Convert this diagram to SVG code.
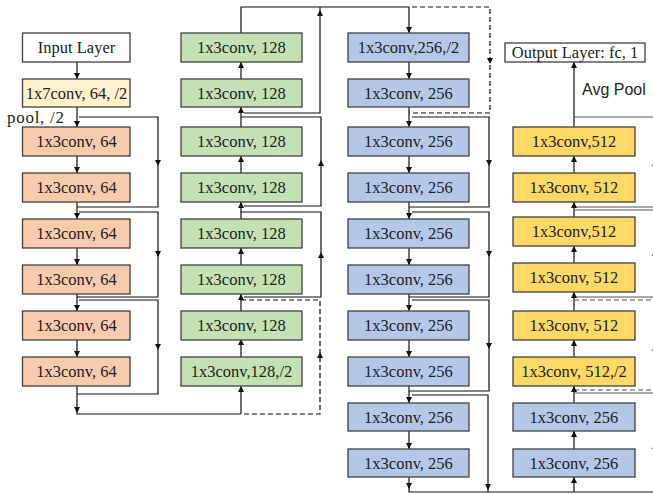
<svg xmlns="http://www.w3.org/2000/svg" xmlns:xlink="http://www.w3.org/1999/xlink" width="653" height="494" viewBox="0 0 653 494">
<style>
.box{stroke:#404040;stroke-width:1.3}
.w{fill:#ffffff}.y{fill:#FFF2CC}.o{fill:#F8CBAD}.g{fill:#C5E0B4}.b{fill:#B4C7E7}.gold{fill:#FFD966}
.t{font-family:"Liberation Serif","Times New Roman",serif;font-size:16.5px;fill:#222;text-anchor:middle}
.s{font-family:"Liberation Sans",Arial,sans-serif;font-size:16px;fill:#222}
.ln{fill:none;stroke:#111;stroke-width:1.2}
.gr{fill:none;stroke:#555;stroke-width:1.2}
.ds{stroke-dasharray:5,3}
.ah{fill:#111}
</style>
<defs>
<path id="ad" d="M-3,-6 L3,-6 L0,0 Z"/>
<path id="au" d="M-3,6 L3,6 L0,0 Z"/>
</defs>
<g id="connectors">
<!-- column 1 -->
<path class="ln" d="M77,62 V79 M77,107 V127 M77,156 V173 M77,202 V219 M77,248 V265 M77,294 V311 M77,340 V357 M77,386 V414 H241"/>
<path class="ln" d="M79,117 H158 V207 H77 M79,212 H158 V297 H77 M79,300 H158 V394 H77"/>
<g class="ah">
<use xlink:href="#ad" x="77" y="79"/><use xlink:href="#ad" x="77" y="127"/><use xlink:href="#ad" x="77" y="173"/><use xlink:href="#ad" x="77" y="219"/><use xlink:href="#ad" x="77" y="265"/><use xlink:href="#ad" x="77" y="311"/><use xlink:href="#ad" x="77" y="357"/><use xlink:href="#ad" x="77" y="413"/>
<use xlink:href="#ad" x="158" y="166"/><use xlink:href="#ad" x="158" y="257"/><use xlink:href="#ad" x="158" y="350"/>
</g>
<!-- column 2 -->
<path class="ln" d="M241,414 V386 M241,357 V339 M241,311 V294 M241,265 V248 M241,219 V202 M241,173 V156 M241,127 V107 M241,79 V62 M241,33 V7 H409 V33"/>
<path class="ln ds" d="M244,414 H320 V300 H241"/>
<path class="ln" d="M244,297 H321 V212 H241 M244,206 H321 V117 H241 M244,113 H320 V7"/>
<g class="ah">
<use xlink:href="#au" x="241" y="386"/><use xlink:href="#au" x="241" y="339"/><use xlink:href="#au" x="241" y="294"/><use xlink:href="#au" x="241" y="248"/><use xlink:href="#au" x="241" y="202"/><use xlink:href="#au" x="241" y="156"/><use xlink:href="#au" x="241" y="107"/><use xlink:href="#au" x="241" y="62"/>
<use xlink:href="#au" x="320" y="352"/><use xlink:href="#au" x="321" y="252"/><use xlink:href="#au" x="321" y="160"/><use xlink:href="#au" x="320" y="10"/>
</g>
<!-- column 3 -->
<path class="ln" d="M409,62 V79 M409,107 V127 M409,156 V173 M409,202 V219 M409,248 V265 M409,294 V311 M409,340 V357 M409,386 V403 M409,431 V449 M409,477 V492 H660"/>
<path class="ln ds" d="M412,7 H490 V113 H409"/>
<path class="ln" d="M412,117 H489 V207 H409 M412,212 H489 V297 H409 M412,300 H489 V391 H409 M412,395 H488 V492"/>
<g class="ah">
<use xlink:href="#ad" x="409" y="33"/><use xlink:href="#ad" x="409" y="79"/><use xlink:href="#ad" x="409" y="127"/><use xlink:href="#ad" x="409" y="173"/><use xlink:href="#ad" x="409" y="219"/><use xlink:href="#ad" x="409" y="265"/><use xlink:href="#ad" x="409" y="311"/><use xlink:href="#ad" x="409" y="357"/><use xlink:href="#ad" x="409" y="403"/><use xlink:href="#ad" x="409" y="449"/><use xlink:href="#ad" x="409" y="489"/>
<use xlink:href="#ad" x="490" y="64"/><use xlink:href="#ad" x="489" y="166"/><use xlink:href="#ad" x="489" y="257"/><use xlink:href="#ad" x="489" y="349"/><use xlink:href="#ad" x="488" y="490"/>
</g>
<!-- column 4 -->
<path class="ln" d="M574,492 V477 M574,449 V431 M574,403 V386 M574,357 V340 M574,311 V292 M574,263 V246 M574,217 V202 M574,173 V156 M574,127 V62"/>
<path class="gr" d="M574,117 H656 V207 M574,207 H660 M574,210 H656 V297 M574,297 H660 M574,393 H656 V492"/>
<path class="gr ds" d="M574,300 H656 V390 M574,390 H660"/>
<g class="ah">
<use xlink:href="#au" x="574" y="477"/><use xlink:href="#au" x="574" y="431"/><use xlink:href="#au" x="574" y="386"/><use xlink:href="#au" x="574" y="340"/><use xlink:href="#au" x="574" y="292"/><use xlink:href="#au" x="574" y="246"/><use xlink:href="#au" x="574" y="202"/><use xlink:href="#au" x="574" y="156"/><use xlink:href="#au" x="574" y="62"/>
<use xlink:href="#au" x="655" y="160"/><use xlink:href="#au" x="655" y="250"/><use xlink:href="#au" x="655" y="345"/><use xlink:href="#au" x="655" y="443"/>
</g>
</g>
<!-- column 1 nodes -->
<g id="input"><rect class="box w" x="22.5" y="33" width="107.5" height="29"/><text class="t" x="76.5" y="53">Input Layer</text></g>
<g id="conv7"><rect class="box y" x="22.5" y="79" width="107.5" height="28"/><text class="t" x="76.5" y="99">1x7conv, 64, /2</text></g>
<g id="pool"><text class="t" x="7" y="123" style="text-anchor:start;font-size:17px" textLength="57">pool, /2</text></g>
<g id="c1_1"><rect class="box o" x="22.5" y="127" width="107.5" height="29"/><text class="t" x="76.5" y="147">1x3conv, 64</text></g>
<g id="c1_2"><rect class="box o" x="22.5" y="173" width="107.5" height="29"/><text class="t" x="76.5" y="193">1x3conv, 64</text></g>
<g id="c1_3"><rect class="box o" x="22.5" y="219" width="107.5" height="29"/><text class="t" x="76.5" y="239">1x3conv, 64</text></g>
<g id="c1_4"><rect class="box o" x="22.5" y="265" width="107.5" height="29"/><text class="t" x="76.5" y="285">1x3conv, 64</text></g>
<g id="c1_5"><rect class="box o" x="22.5" y="311" width="107.5" height="29"/><text class="t" x="76.5" y="331">1x3conv, 64</text></g>
<g id="c1_6"><rect class="box o" x="22.5" y="357" width="107.5" height="29"/><text class="t" x="76.5" y="377">1x3conv, 64</text></g>
<!-- column 2 nodes -->
<g id="c2_8"><rect class="box g" x="181" y="33" width="121" height="29"/><text class="t" x="241.5" y="53">1x3conv, 128</text></g>
<g id="c2_7"><rect class="box g" x="181" y="79" width="121" height="28"/><text class="t" x="241.5" y="99">1x3conv, 128</text></g>
<g id="c2_6"><rect class="box g" x="181" y="127" width="121" height="29"/><text class="t" x="241.5" y="147">1x3conv, 128</text></g>
<g id="c2_5"><rect class="box g" x="181" y="173" width="121" height="29"/><text class="t" x="241.5" y="193">1x3conv, 128</text></g>
<g id="c2_4"><rect class="box g" x="181" y="219" width="121" height="29"/><text class="t" x="241.5" y="239">1x3conv, 128</text></g>
<g id="c2_3"><rect class="box g" x="181" y="265" width="121" height="29"/><text class="t" x="241.5" y="285">1x3conv, 128</text></g>
<g id="c2_2"><rect class="box g" x="181" y="311" width="121" height="29"/><text class="t" x="241.5" y="331">1x3conv, 128</text></g>
<g id="c2_1"><rect class="box g" x="181" y="357" width="121" height="29"/><text class="t" x="241.5" y="377">1x3conv,128,/2</text></g>
<!-- column 3 nodes -->
<g id="c3_1"><rect class="box b" x="348" y="33" width="121" height="29"/><text class="t" x="408.5" y="53">1x3conv,256,/2</text></g>
<g id="c3_2"><rect class="box b" x="348" y="79" width="121" height="28"/><text class="t" x="408.5" y="99">1x3conv, 256</text></g>
<g id="c3_3"><rect class="box b" x="348" y="127" width="121" height="29"/><text class="t" x="408.5" y="147">1x3conv, 256</text></g>
<g id="c3_4"><rect class="box b" x="348" y="173" width="121" height="29"/><text class="t" x="408.5" y="193">1x3conv, 256</text></g>
<g id="c3_5"><rect class="box b" x="348" y="219" width="121" height="29"/><text class="t" x="408.5" y="239">1x3conv, 256</text></g>
<g id="c3_6"><rect class="box b" x="348" y="265" width="121" height="29"/><text class="t" x="408.5" y="285">1x3conv, 256</text></g>
<g id="c3_7"><rect class="box b" x="348" y="311" width="121" height="29"/><text class="t" x="408.5" y="331">1x3conv, 256</text></g>
<g id="c3_8"><rect class="box b" x="348" y="357" width="121" height="29"/><text class="t" x="408.5" y="377">1x3conv, 256</text></g>
<g id="c3_9"><rect class="box b" x="348" y="403" width="121" height="28"/><text class="t" x="408.5" y="423">1x3conv, 256</text></g>
<g id="c3_10"><rect class="box b" x="348" y="449" width="121" height="28"/><text class="t" x="408.5" y="469">1x3conv, 256</text></g>
<!-- column 4 nodes -->
<g id="output"><rect class="box w" x="505" y="43" width="140" height="19"/><text class="t" x="575" y="57.5">Output Layer: fc, 1</text></g>
<g id="avgpool"><text class="s" x="582" y="95">Avg Pool</text></g>
<g id="c4_8"><rect class="box gold" x="513" y="127" width="122" height="29"/><text class="t" x="574" y="147">1x3conv,512</text></g>
<g id="c4_7"><rect class="box gold" x="513" y="173" width="122" height="29"/><text class="t" x="574" y="193">1x3conv, 512</text></g>
<g id="c4_6"><rect class="box gold" x="513" y="217" width="122" height="29"/><text class="t" x="574" y="237">1x3conv,512</text></g>
<g id="c4_5"><rect class="box gold" x="513" y="263" width="122" height="29"/><text class="t" x="574" y="283">1x3conv, 512</text></g>
<g id="c4_4"><rect class="box gold" x="513" y="311" width="122" height="29"/><text class="t" x="574" y="331">1x3conv, 512</text></g>
<g id="c4_3"><rect class="box gold" x="513" y="357" width="122" height="29"/><text class="t" x="574" y="377">1x3conv, 512,/2</text></g>
<g id="c4_2"><rect class="box b" x="513" y="403" width="122" height="28"/><text class="t" x="574" y="423">1x3conv, 256</text></g>
<g id="c4_1"><rect class="box b" x="513" y="449" width="122" height="28"/><text class="t" x="574" y="469">1x3conv, 256</text></g>
</svg>
